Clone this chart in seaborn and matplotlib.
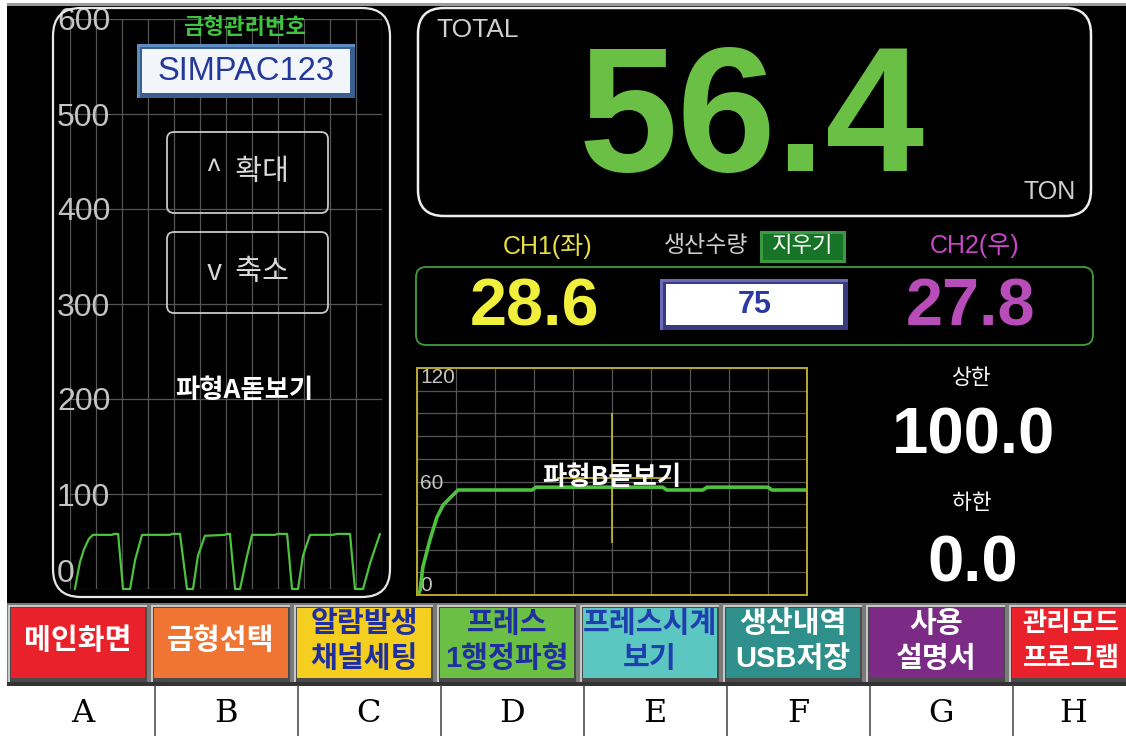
import numpy as np
import pandas as pd
import matplotlib
matplotlib.use("Agg")
import matplotlib.pyplot as plt
import seaborn as sns
from matplotlib.patches import FancyBboxPatch, Rectangle
from matplotlib import font_manager as fm

# ---------------- data ----------------
waveA_time = [1.9, 2.7, 3.8, 5.4, 7.3, 8.8, 16.2, 16.9, 18.5, 20.4, 23.1,
              25.0, 27.7, 38.5, 39.2, 42.3, 45.0, 47.3,
              49.2, 51.9, 59.6, 60.4, 61.5, 63.5, 65.4,
              67.7, 70.0, 78.8, 80.0, 83.5, 85.4, 87.7,
              89.6, 92.3, 101.2, 102.7, 107.7, 109.6, 112.7,
              115.5, 119.2]
waveA_force = [0, 12, 28, 42, 53, 57, 57, 58, 58, 0, 0,
               30, 57, 57, 58, 58, 0, 0,
               35, 56, 57, 58, 58, 0, 0,
               30, 57, 57, 58, 58, 0, 0,
               35, 57, 57, 58, 58, 0, 0,
               28, 58]
waveA_yticks = [0, 100, 200, 300, 400, 500, 600]

waveB_time = [0.3, 0.8, 1.5, 3.3, 5.1, 6.7, 10.5, 29.5, 30.5, 63.0, 64.0, 73.3, 74.4, 90.0, 91.0, 100.0]
waveB_force = [0, 2.6, 14.8, 29, 41, 47.6, 55.5, 55.5, 57, 57, 55.5, 55.5, 57, 57, 55.5, 55.5]
waveB_yticks = [0, 60, 120]
cursorB_time = 50
cursorB_force = 62

total_ton = "56.4"
ch1_ton = "28.6"
ch2_ton = "27.8"
production_count = "75"
upper_limit = "100.0"
lower_limit = "0.0"
mold_number = "SIMPAC123"

button_labels = ["메인화면", "금형선택", "알람발생\n채널세팅", "프레스\n1행정파형",
                 "프레스시계\n보기", "생산내역\nUSB저장", "사용\n설명서", "관리모드\n프로그램"]
button_colors = ["#E8212B", "#F07433", "#F5CF1F", "#6BBF45",
                 "#5CC7C0", "#2F8F8A", "#7B2A86", "#E8212B"]
button_text_colors = ["white", "white", "#1F2F9F", "#1F2F9F",
                      "#1F3FB0", "white", "white", "white"]
column_letters = ["A", "B", "C", "D", "E", "F", "G", "H"]

# ---------------- style ----------------
sns.set_theme(style="dark", rc={"axes.facecolor": "none", "figure.facecolor": "white",
                                "grid.color": "#5A5A5A", "grid.linewidth": 0.8})
avail = {f.name for f in fm.fontManager.ttflist}
NARROW = "Liberation Sans Narrow" if "Liberation Sans Narrow" in avail else "Liberation Sans"
KR = "Noto Sans CJK KR"
plt.rcParams["font.family"] = [NARROW, KR, "DejaVu Sans"]

W, H = 1126, 736
fig = plt.figure(figsize=(W / 100, H / 100), dpi=100)

def px2pt(p):
    return p * 0.72

# background layer
bg = fig.add_axes([0, 0, 1, 1], zorder=0)
bg.set_xlim(0, W); bg.set_ylim(H, 0); bg.axis("off")
bg.add_patch(Rectangle((7, 5), W - 7, 598, fc="black", ec="none"))
bg.add_patch(Rectangle((7, 3), W - 7, 2.5, fc="#9A9A9A", ec="none"))
# button strip
bg.add_patch(Rectangle((7, 603), W - 7, 80, fc="#7A7A7A", ec="none"))
bg.add_patch(Rectangle((7, 682), W - 7, 4, fc="#333333", ec="none"))
step = 143.0
for i, (lab, col, tcol) in enumerate(zip(button_labels, button_colors, button_text_colors)):
    x0 = 9 + i * step
    bg.add_patch(Rectangle((x0 - 1, 605), 139, 77, fc="#C8C8C8", ec="none"))
    bg.add_patch(Rectangle((x0 + 1, 607), 137, 75, fc="#4A4A4A", ec="none"))
    bg.add_patch(Rectangle((x0 + 2, 608), 134, 70, fc=col, ec="none"))
    lines = lab.split("\n")
    cx = x0 + 69
    size = 21
    if i == len(button_labels) - 1:
        cx = min(cx, W - 55)
        size = 19
    ys = [641] if len(lines) == 1 else [624, 659]
    for ln, yy in zip(lines, ys):
        bg.text(cx, yy, ln, ha="center", va="center", color=tcol,
                fontsize=size, fontweight="bold", family=[NARROW, KR])
# letter row
for i, letter in enumerate(column_letters):
    cx = 83 + i * step
    if i == len(column_letters) - 1:
        cx = 1073
    bg.text(cx, 713, letter, ha="center", va="center", fontsize=23,
            family="DejaVu Serif", color="black")
    if i > 0:
        xb = 83 + i * step - step / 2
        bg.plot([xb, xb], [686, H], color="#505050", lw=1.2)

# ---------------- chart A ----------------
axA = fig.add_axes([70 / W, 1 - 589 / H, 312 / W, 570 / H], zorder=1)
dfA = pd.DataFrame({"time": waveA_time, "force": waveA_force})
sns.lineplot(data=dfA, x="time", y="force", ax=axA, color="#4DC23C", lw=1.6,
             sort=False, estimator=None)
for l in axA.lines:
    l.set_clip_on(False)
axA.set_xlim(0, 120); axA.set_ylim(0, 600)
axA.set_xticks(np.arange(0, 121, 10)); axA.set_xticklabels([])
axA.set_yticks(waveA_yticks)
axA.set_yticklabels([str(v) for v in waveA_yticks])
axA.tick_params(axis="both", length=0)
axA.tick_params(axis="y", pad=px2pt(13), labelsize=23, labelcolor="#C4C4C4")
for t in axA.get_yticklabels():
    t.set_ha("left")
    t.set_family("Liberation Sans")
axA.get_yticklabels()[0].set_va("bottom")
axA.grid(True, color="#555555", lw=0.9)
axA.set_xlabel(""); axA.set_ylabel("")
for s in axA.spines.values():
    s.set_visible(False)

# ---------------- chart B ----------------
axB = fig.add_axes([417 / W, 1 - 595 / H, 390 / W, 227 / H], zorder=1)
dfB = pd.DataFrame({"time": waveB_time, "force": waveB_force})
sns.lineplot(data=dfB, x="time", y="force", ax=axB, color="#4DC23C", lw=2.6,
             sort=False, estimator=None)
axB.set_xlim(0, 100); axB.set_ylim(0, 120)
axB.set_xticks(np.arange(0, 101, 10)); axB.set_xticklabels([])
axB.set_yticks(np.arange(0, 121, 12), minor=False)
axB.set_yticklabels([str(v) if v in waveB_yticks else "" for v in np.arange(0, 121, 12)])
axB.tick_params(axis="both", length=0)
axB.tick_params(axis="y", pad=px2pt(-3), labelsize=15, labelcolor="#C4C4C4")
labsB = axB.get_yticklabels()
for t in labsB:
    t.set_ha("left")
    t.set_family("Liberation Sans")
labsB[0].set_va("bottom")
labsB[-1].set_va("top")
axB.grid(True, color="#555555", lw=0.9)
axB.set_xlabel(""); axB.set_ylabel("")
for s in axB.spines.values():
    s.set_color("#B8A82E"); s.set_linewidth(1.4); s.set_visible(True)
axB.vlines(cursorB_time, 27.5, 96, color="#C8BE30", lw=1.2)
axB.hlines(cursorB_force, 36, 65, color="#C8BE30", lw=1.2)
axB.text(cursorB_time, cursorB_force, "파형B돋보기", ha="center", va="center",
         color="white", fontsize=19, fontweight="bold", family=[KR, NARROW], zorder=5)

# ---------------- overlay ----------------
ov = fig.add_axes([0, 0, 1, 1], zorder=3)
ov.set_xlim(0, W); ov.set_ylim(H, 0); ov.axis("off"); ov.patch.set_alpha(0)

def rbox(x0, y0, x1, y1, r, ec, fc="none", lw=1.8):
    ov.add_patch(FancyBboxPatch((x0, y0), x1 - x0, y1 - y0,
                                boxstyle=f"round,pad=0,rounding_size={r}",
                                ec=ec, fc=fc, lw=lw))

def txt(x, y, s, size, color, weight="normal", family=None, ha="center", va="center"):
    ov.text(x, y, s, ha=ha, va=va, color=color, fontsize=size, fontweight=weight,
            family=family if family else [NARROW, KR])

# left panel
rbox(53, 8, 390, 597, 28, "#E8E8E8", lw=1.6)
txt(245, 28, "금형관리번호", 16, "#3EC43E", weight="bold", family=[KR])
ov.add_patch(Rectangle((137, 44), 218, 54, fc="#5C8CC0", ec="none"))
ov.add_patch(Rectangle((140, 47), 215, 51, fc="#3A6090", ec="none"))
ov.add_patch(Rectangle((142, 49), 208, 44, fc="#F2F5F9", ec="none"))
txt(246, 72, mold_number, 23.5, "#23389A")
rbox(167, 132, 328, 213, 7, "#C8C8C8", lw=1.3)
rbox(167, 232, 328, 313, 7, "#C8C8C8", lw=1.3)
txt(248, 172, "^  확대", 21, "#DADADA", family=[KR])
txt(248, 272, "v  축소", 21, "#DADADA", family=[KR])
txt(244, 390, "파형A돋보기", 19, "white", weight="bold", family=[KR, NARROW])

# total panel
rbox(418, 8, 1091, 216, 26, "#EEEEEE", lw=1.8)
txt(436, 30, "TOTAL", 19, "#D0D0D0", ha="left")
txt(1076, 192, "TON", 18, "#D0D0D0", ha="right")
txt(752, 125, total_ton, 128, "#6ABF45", weight="bold", family="Liberation Sans")

# channel row
txt(548, 246, "CH1(좌)", 18, "#E8E040")
txt(706, 246, "생산수량", 16.5, "#D0D0D0", family=[KR])
ov.add_patch(Rectangle((760, 231), 86, 32, fc="#3A9A44", ec="none"))
ov.add_patch(Rectangle((763, 234), 80, 26, fc="#177326", ec="none"))
txt(803, 246, "지우기", 16, "white", family=[KR])
txt(975, 246, "CH2(우)", 18, "#C848C8")
rbox(416, 267, 1093, 345, 10, "#3E9E3E", lw=1.3)
txt(534, 309, ch1_ton, 48, "#F0F03C", weight="bold", family="Liberation Sans")
ov.add_patch(Rectangle((660, 279), 188, 51, fc="#6A6AB8", ec="none"))
ov.add_patch(Rectangle((663, 282), 185, 48, fc="#3A3A80", ec="none"))
ov.add_patch(Rectangle((666, 284), 177, 41, fc="white", ec="none"))
txt(755, 305, production_count, 22, "#2A3AA0", weight="bold", family="Liberation Sans")
txt(971, 309, ch2_ton, 48, "#B84CB8", weight="bold", family="Liberation Sans")

# limits
txt(972, 378, "상한", 15.5, "white", family=[KR])
txt(973, 436, upper_limit, 47, "white", weight="bold", family="Liberation Sans")
txt(972, 503, "하한", 15.5, "white", family=[KR])
txt(973, 564, lower_limit, 47, "white", weight="bold", family="Liberation Sans")

fig.savefig("out.png", dpi=100, facecolor="white")
